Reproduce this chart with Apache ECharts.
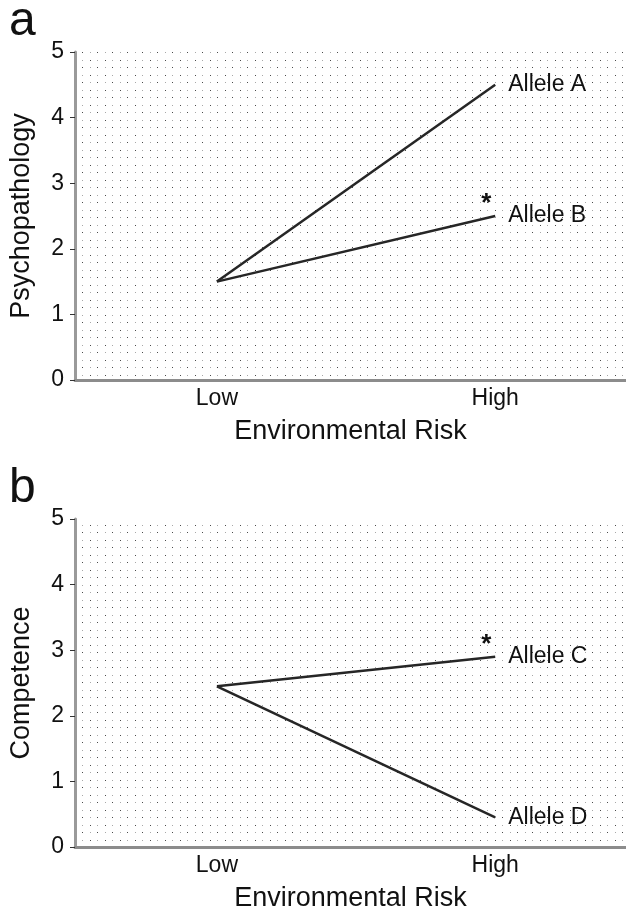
<!DOCTYPE html>
<html>
<head>
<meta charset="utf-8">
<script src="https://cdn.jsdelivr.net/npm/echarts@6/dist/echarts.min.js"></script>
<style>
  html, body { margin: 0; padding: 0; background: #fff; }
  #chart { width: 626px; height: 913px; }
</style>
</head>
<body>
<div id="chart"></div>
<script>
// data
var riskLabels = ['Low', 'High'];
var riskX = [0, 1];
var alleleA = [1.5, 4.5];
var alleleB = [1.5, 2.5];
var alleleC = [2.45, 2.9];
var alleleD = [2.45, 0.45];
var starred = ['Allele B', 'Allele C'];
var panelNames = ['Psychopathology', 'Competence'];
var panelLetters = ['a', 'b'];

var font = '"Liberation Sans", Arial, Helvetica, sans-serif';

// stippled background like the original
function dotPattern() {
    var c = document.createElement('canvas');
    c.width = 15; c.height = 15;
    var ctx = c.getContext('2d');
    ctx.fillStyle = '#4a4a4a';
    ctx.fillRect(0, 0, 1, 1);
    ctx.fillRect(7, 7, 1, 1);
    ctx.fillStyle = '#a8a8a8';
    ctx.fillRect(7, 0, 1, 1);
    ctx.fillRect(0, 7, 1, 1);
    return { image: c, repeat: 'repeat' };
}
var pattern = dotPattern();

var grids = [
    { left: 75, right: 0, top: 52, height: 328 },
    { left: 75, right: 0, top: 519, height: 328 }
];

function pairs(vals) {
    return vals.map(function (v, i) { return [riskX[i], v]; });
}

var xAxes = [], yAxes = [], series = [];
grids.forEach(function (g, i) {
    g.show = true;
    g.backgroundColor = pattern;
    g.borderWidth = 0;
    xAxes.push({
        gridIndex: i,
        type: 'value',
        min: -0.51,
        max: 1.47,
        name: 'Environmental Risk',
        nameLocation: 'middle',
        nameGap: 38,
        nameTextStyle: { fontFamily: font, fontSize: 27, color: '#111' },
        axisLine: { onZero: false, lineStyle: { color: '#8c8c8c', width: 3 } },
        axisTick: { show: false },
        splitLine: { show: false },
        axisLabel: {
            customValues: riskX,
            margin: 7,
            fontFamily: font, fontSize: 23, color: '#111',
            formatter: function (v) { return riskLabels[Math.round(v)]; }
        }
    });
    yAxes.push({
        gridIndex: i,
        type: 'value',
        min: 0,
        max: 5,
        interval: 1,
        name: panelNames[i],
        nameLocation: 'middle',
        nameGap: 40,
        nameTextStyle: { fontFamily: font, fontSize: 27, color: '#111' },
        axisLine: { show: true, onZero: false, lineStyle: { color: '#9a9a9a', width: 3 } },
        axisTick: { show: true, length: 5, lineStyle: { color: '#333', width: 1 } },
        splitLine: { show: false },
        axisLabel: { margin: 11, fontFamily: font, fontSize: 23, color: '#111' }
    });
});

function lineSeries(name, vals, gi) {
    var s = {
        name: name,
        type: 'line',
        xAxisIndex: gi,
        yAxisIndex: gi,
        data: pairs(vals),
        symbol: 'none',
        lineStyle: { color: '#262626', width: 2.5 },
        endLabel: {
            show: true,
            formatter: '{a}',
            distance: 13,
            fontFamily: font, fontSize: 23, color: '#111'
        },
        animation: false
    };
    if (starred.indexOf(name) >= 0) {
        s.markPoint = {
            symbol: 'circle',
            symbolSize: 1,
            itemStyle: { color: 'rgba(0,0,0,0)' },
            data: [{ coord: pairs(vals)[vals.length - 1] }],
            label: {
                show: true,
                position: 'inside',
                formatter: '*',
                offset: [-9, -12],
                fontFamily: font, fontSize: 26, fontWeight: 'bold', color: '#111'
            }
        };
    }
    return s;
}

series.push(lineSeries('Allele A', alleleA, 0));
series.push(lineSeries('Allele B', alleleB, 0));
series.push(lineSeries('Allele C', alleleC, 1));
series.push(lineSeries('Allele D', alleleD, 1));

var chart = echarts.init(document.getElementById('chart'));
chart.setOption({
    animation: false,
    backgroundColor: '#fff',
    grid: grids,
    xAxis: xAxes,
    yAxis: yAxes,
    series: series,
    graphic: panelLetters.map(function (t, i) {
        return {
            type: 'text',
            left: 9,
            top: i === 0 ? -2 : 465,
            style: { text: t, fontFamily: font, fontSize: 48, fill: '#111' }
        };
    })
});
</script>
</body>
</html>
